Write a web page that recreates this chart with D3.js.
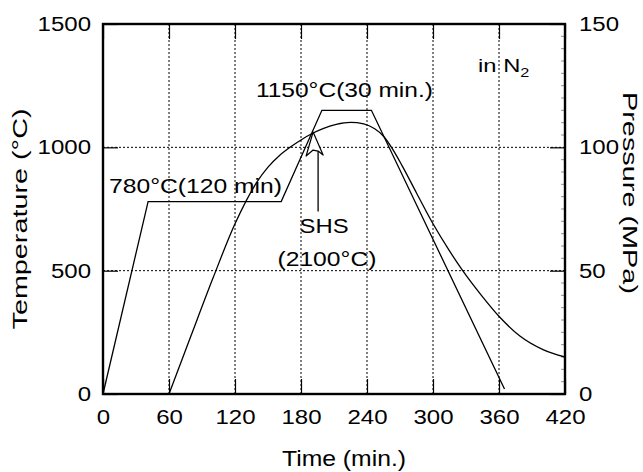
<!DOCTYPE html>
<html>
<head>
<meta charset="utf-8">
<script src="https://cdn.jsdelivr.net/npm/d3@7"></script>
<style>
  body { margin: 0; background: #fff; }
  text { font-family: "Liberation Sans", Arial, sans-serif; fill: #000; }
</style>
</head>
<body>
<svg id="chart" width="643" height="472"></svg>
<script>
// axis ticks
const timeTicks = [0, 60, 120, 180, 240, 300, 360, 420];
const tempTicks = [0, 500, 1000, 1500];
const presTicks = [0, 50, 100, 150];

// temperature schedule (min, °C)
const tempTime = [0, 41, 162, 199, 244, 365];
const tempVal  = [0, 780, 780, 1150, 1150, 20];

// pressure curve (min, MPa)
const presTime = [60, 80, 100, 120, 140, 150, 160, 170, 180, 191, 200, 212, 225, 237, 247, 255, 263, 272, 285, 300, 315, 327, 344, 361, 379, 400, 420];
const presVal  = [0, 23.6, 47, 69, 86, 92, 96.5, 100, 103, 105.8, 107.6, 109.3, 110.1, 109.5, 107.5, 104.5, 99.5, 92.5, 81.5, 69, 58, 50, 40, 31, 23.5, 18, 15];

const svg = d3.select("#chart");
const W = 643, H = 472;
const pLeft = 103, pRight = 565, pTop = 24, pBottom = 394;

const x = d3.scaleLinear().domain([0, 420]).range([pLeft, pRight]);
const yT = d3.scaleLinear().domain([0, 1500]).range([pBottom, pTop]);
const yP = d3.scaleLinear().domain([0, 150]).range([pBottom, pTop]);

svg.append("rect").attr("width", W).attr("height", H).attr("fill", "#fff");

// stretch text horizontally, the original lettering is wide
function widen(sel, k) {
  sel.each(function () {
    const w = this.getComputedTextLength();
    this.setAttribute("textLength", w * k);
    this.setAttribute("lengthAdjust", "spacingAndGlyphs");
  });
}

// dotted grid
const grid = svg.append("g").attr("stroke", "#000").attr("stroke-width", 1).attr("stroke-dasharray", "2,2");
grid.selectAll(".vg").data(timeTicks.slice(1, -1)).enter().append("line")
  .attr("x1", d => x(d)).attr("x2", d => x(d)).attr("y1", pTop).attr("y2", pBottom);
grid.selectAll(".hg").data(tempTicks.slice(1, -1)).enter().append("line")
  .attr("x1", pLeft).attr("x2", pRight).attr("y1", d => yT(d)).attr("y2", d => yT(d));

// axes with inward ticks
const tickLen = 15;
const fmt = d3.format("d");
const gB = svg.append("g").attr("transform", `translate(0,${pBottom})`)
  .call(d3.axisBottom(x).tickValues(timeTicks).tickFormat(fmt).tickSize(-tickLen).tickPadding(16));
const gTop = svg.append("g").attr("transform", `translate(0,${pTop})`)
  .call(d3.axisTop(x).tickValues(timeTicks).tickSize(-tickLen).tickFormat(""));
const gL = svg.append("g").attr("transform", `translate(${pLeft},0)`)
  .call(d3.axisLeft(yT).tickValues(tempTicks).tickFormat(fmt).tickSize(-tickLen).tickPadding(12));
const gR = svg.append("g").attr("transform", `translate(${pRight},0)`)
  .call(d3.axisRight(yP).tickValues(presTicks).tickFormat(fmt).tickSize(-tickLen).tickPadding(14));

[gB, gTop, gL, gR].forEach(g => {
  g.select(".domain").remove();
  g.selectAll("line").attr("stroke", "#000").attr("stroke-width", 1.2);
  g.selectAll("text").attr("font-size", 20).style("font-family", '"Liberation Sans", Arial, sans-serif');
  widen(g.selectAll("text"), 1.2);
});

// faint minor ticks on the pressure axis
const minorP = d3.range(5, 150, 5).filter(v => v % 50 !== 0);
svg.append("g").selectAll("line").data(minorP).enter().append("line")
  .attr("x1", pRight - 4).attr("x2", pRight).attr("y1", d => yP(d)).attr("y2", d => yP(d))
  .attr("stroke", "#777").attr("stroke-width", 0.8);

// frame
svg.append("rect").attr("x", pLeft).attr("y", pTop).attr("width", pRight - pLeft).attr("height", pBottom - pTop)
  .attr("fill", "none").attr("stroke", "#000").attr("stroke-width", 2.4);

// temperature schedule
const tempLine = d3.line().x(d => x(d[0])).y(d => yT(d[1]));
svg.append("path").datum(d3.zip(tempTime, tempVal)).attr("d", tempLine)
  .attr("fill", "none").attr("stroke", "#000").attr("stroke-width", 1.3);

// pressure curve
const presLine = d3.line().x(d => x(d[0])).y(d => yP(d[1])).curve(d3.curveMonotoneX);
svg.append("path").datum(d3.zip(presTime, presVal)).attr("d", presLine)
  .attr("fill", "none").attr("stroke", "#000").attr("stroke-width", 1.3);

// SHS arrow
const tipX = x(191), tipY = yT(1062);
svg.append("line").attr("x1", tipX + 5).attr("x2", tipX + 5).attr("y1", yT(740)).attr("y2", tipY + 19)
  .attr("stroke", "#000").attr("stroke-width", 1.3);
svg.append("path")
  .attr("d", `M${tipX},${tipY} L${tipX - 7},${tipY + 24} L${tipX},${tipY + 18} L${tipX + 5},${tipY + 19} L${tipX + 10},${tipY + 23} Z`)
  .attr("fill", "#fff").attr("stroke", "#000").attr("stroke-width", 1.2).attr("stroke-linejoin", "round");

// annotations
function note(str, t, v, anchor, size, w) {
  const el = svg.append("text").attr("x", x(t)).attr("y", yT(v))
    .attr("text-anchor", anchor).attr("font-size", size).text(str);
  el.attr("textLength", w).attr("lengthAdjust", "spacingAndGlyphs");
  return el;
}
note("780°C(120 min)", 5.5, 815, "start", 21, 173);
note("1150°C(30 min.)", 139, 1203, "start", 21, 177);
note("SHS", 201, 651, "middle", 21, 49);
note("(2100°C)", 203.6, 519, "middle", 21, 99);

const n2 = svg.append("text").attr("x", x(341)).attr("y", yT(1306)).attr("font-size", 19);
n2.append("tspan").text("in N");
n2.append("tspan").attr("font-size", 13).attr("dy", 5).text("2");
widen(n2, 1.25);

// axis titles
svg.append("text").attr("x", 344).attr("y", 466).attr("text-anchor", "middle").attr("font-size", 22)
  .attr("textLength", 124).attr("lengthAdjust", "spacingAndGlyphs").text("Time (min.)");
svg.append("text").attr("transform", "translate(27,219) rotate(-90)").attr("text-anchor", "middle")
  .attr("font-size", 21).attr("textLength", 221).attr("lengthAdjust", "spacingAndGlyphs").text("Temperature (°C)");
svg.append("text").attr("transform", "translate(623,193) rotate(90)").attr("text-anchor", "middle")
  .attr("font-size", 20).attr("textLength", 202).attr("lengthAdjust", "spacingAndGlyphs").text("Pressure (MPa)");
</script>
</body>
</html>
